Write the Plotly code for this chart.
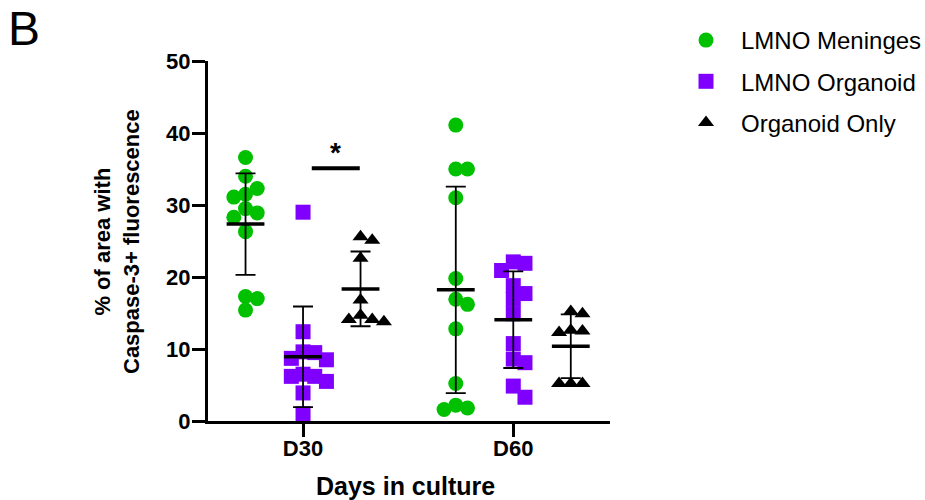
import numpy as np
import plotly.graph_objects as go

# ---------------- data ----------------
days = ["D30", "D60"]
groups = ["LMNO Meninges", "LMNO Organoid", "Organoid Only"]

meninges_d30 = [36.6, 34.0, 32.3, 31.5, 31.1, 29.5, 28.9, 28.3, 26.3, 17.3, 17.0, 15.4]
meninges_d60 = [41.1, 35.0, 35.0, 31.0, 19.8, 16.9, 16.2, 12.8, 5.2, 2.2, 1.8, 1.6]
organoid_d30 = [29.0, 12.4, 9.6, 9.5, 8.7, 8.5, 6.5, 6.2, 6.2, 5.5, 3.9, 1.0]
organoid_d60 = [22.1, 21.9, 20.9, 18.8, 17.7, 16.9, 14.9, 10.75, 8.6, 8.1, 4.85, 3.3]
only_d30 = [25.6, 25.1, 22.6, 16.8, 14.7, 14.1, 14.1, 13.8]
only_d60 = [15.2, 14.9, 12.6, 12.5, 12.3, 5.2, 5.2, 5.2]

y_ticks = [0, 10, 20, 30, 40, 50]
sig_day = "D30"
sig_pair = ("LMNO Organoid", "Organoid Only")
sig_level = 35.1
sig_label = "*"

series = {
    "LMNO Meninges": [meninges_d30, meninges_d60],
    "LMNO Organoid": [organoid_d30, organoid_d60],
    "Organoid Only": [only_d30, only_d60],
}

# ---------------- styles / layout constants ----------------
colors = {"LMNO Meninges": "#00C000", "LMNO Organoid": "#7F00FF", "Organoid Only": "#000000"}
symbols = {"LMNO Meninges": "circle", "LMNO Organoid": "square", "Organoid Only": "triangle-up"}
sizes = {"LMNO Meninges": 15, "LMNO Organoid": 15, "Organoid Only": 14}

W, H = 925, 500
ML, MR, MT, MB = 208, 315, 61, 79
PLOT_W = W - ML - MR
PLOT_H = H - MT - MB
X_RANGE = [-0.452, 1.46]
Y_RANGE = [0, 50]
px_per_x = PLOT_W / (X_RANGE[1] - X_RANGE[0])
px_per_y = PLOT_H / (Y_RANGE[1] - Y_RANGE[0])
GROUP_OFFSET_PX = 57.5
SWARM_STEP_PX = 11.7
COLLIDE_PX = 13.5


def px_x(p):
    return (p - ML) / PLOT_W


def px_y(p):
    return (H - MB - p) / PLOT_H


def swarm_offsets(vals):
    """Greedy column-based swarm: returns x offsets in axis units."""
    order = sorted(range(len(vals)), key=lambda i: -vals[i])
    placed = []
    offs = [0.0] * len(vals)
    for i in order:
        ypx = vals[i] * px_per_y
        for k in [0, 1, -1, 2, -2, 3, -3]:
            if all(not (kk == k and abs(ypx - py) < COLLIDE_PX) for kk, py in placed):
                break
        placed.append((k, ypx))
        offs[i] = k * SWARM_STEP_PX / px_per_x
    return offs


fig = go.Figure()
group_off = {g: (j - 1) * GROUP_OFFSET_PX / px_per_x for j, g in enumerate(groups)}

for g in groups:
    xs, ys = [], []
    for d_i, vals in enumerate(series[g]):
        offs = swarm_offsets(vals)
        xs += [d_i + group_off[g] + o for o in offs]
        ys += vals
    fig.add_trace(go.Scatter(
        x=xs, y=ys, mode="markers", name=g, legendgroup=g,
        marker=dict(symbol=symbols[g], size=sizes[g], color=colors[g], line=dict(width=0)),
        cliponaxis=False,
    ))

for g in groups:
    mx, my, sd = [], [], []
    for d_i, vals in enumerate(series[g]):
        arr = np.array(vals)
        mx.append(d_i + group_off[g])
        my.append(arr.mean())
        sd.append(arr.std(ddof=1))
    fig.add_trace(go.Scatter(
        x=mx, y=my, mode="markers", showlegend=False, hoverinfo="skip",
        marker=dict(symbol="line-ew", size=27, color="black", line=dict(width=3.5, color="black")),
        error_y=dict(type="data", array=sd, symmetric=True, color="black", thickness=1.8, width=10),
        cliponaxis=False,
    ))

# significance bar
d_i = days.index(sig_day)
xa = d_i + group_off[sig_pair[0]]
xb = d_i + group_off[sig_pair[1]]
xm = (xa + xb) / 2 + 4 / px_per_x
half = 24 / px_per_x
fig.add_shape(type="line", xref="x", yref="y", x0=xm - half, x1=xm + half, y0=sig_level, y1=sig_level,
              line=dict(color="black", width=4))
fig.add_annotation(x=xm, y=sig_level, xref="x", yref="y", text="<b>" + sig_label + "</b>", showarrow=False,
                   yanchor="bottom", yshift=-2, font=dict(family="Liberation Sans", size=28, color="black"))

font_b = dict(family="Liberation Sans", size=22, color="black", weight="bold")

fig.add_annotation(text="% of area with<br>Caspase-3+ fluorescence", textangle=-90,
                   xref="paper", yref="paper", x=px_x(117), y=px_y(242),
                   xanchor="center", yanchor="middle", showarrow=False, font=font_b)
fig.add_annotation(text="Days in culture", xref="paper", yref="paper",
                   x=px_x(405), y=px_y(486),
                   xanchor="center", yanchor="middle", showarrow=False,
                   font=dict(family="Liberation Sans", size=25, color="black", weight="bold"))
fig.add_annotation(text="B", xref="paper", yref="paper",
                   x=px_x(6), y=px_y(28.5),
                   xanchor="left", yanchor="middle", showarrow=False,
                   font=dict(family="Liberation Sans", size=48, color="black"))

fig.update_layout(
    width=W, height=H,
    margin=dict(l=ML, r=MR, t=MT, b=MB, pad=0, autoexpand=False),
    paper_bgcolor="white", plot_bgcolor="white",
    showlegend=True,
    legend=dict(x=px_x(671), y=px_y(18), xanchor="left", yanchor="top",
                font=dict(family="Liberation Sans", size=24, color="black"),
                tracegroupgap=7, itemwidth=60, bgcolor="rgba(0,0,0,0)"),
    xaxis=dict(range=X_RANGE, tickvals=[0, 1], ticktext=days, showgrid=False, zeroline=False,
               showline=True, linewidth=3, linecolor="black", ticks="outside", ticklen=13,
               tickwidth=3, tickcolor="black", tickfont=font_b, ticklabelstandoff=-7),
    yaxis=dict(range=Y_RANGE, tickvals=y_ticks, showgrid=False, zeroline=False,
               showline=True, linewidth=3, linecolor="black", ticks="outside", ticklen=13,
               tickwidth=3, tickcolor="black", tickfont=font_b, ticklabelstandoff=-3),
)

fig.write_html("out.html", config={"displayModeBar": False},
               post_script="document.body.style.margin='0';")
